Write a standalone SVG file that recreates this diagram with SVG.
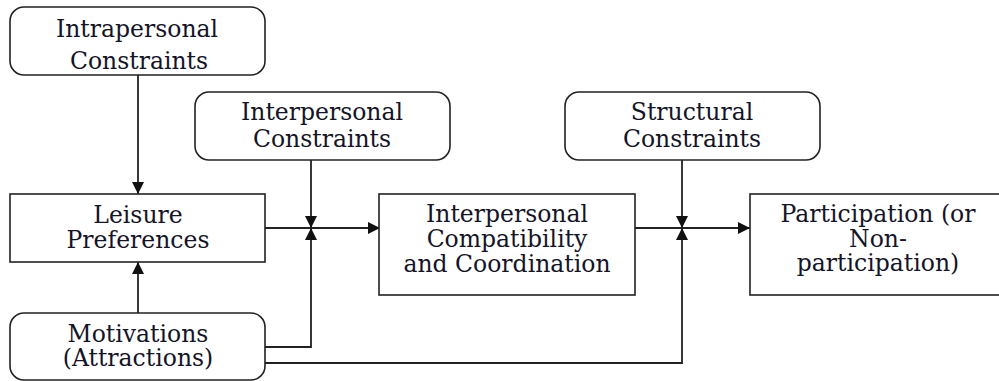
<svg xmlns="http://www.w3.org/2000/svg" width="999" height="381" viewBox="0 0 999 381">
<defs>
<style>
.box{fill:#fff;stroke:#222;stroke-width:1.6}
text{font-family:"DejaVu Serif","Liberation Serif",serif;font-size:23.5px;fill:#141428;text-anchor:middle}
.ln{fill:none;stroke:#222;stroke-width:1.8}
</style>
<marker id="ah" viewBox="0 0 12 12" refX="12" refY="6" markerWidth="12" markerHeight="12" markerUnits="userSpaceOnUse" orient="auto">
<path d="M0,0 L12,6 L0,12 Z" fill="#111"/>
</marker>
</defs>
<rect width="999" height="381" fill="#fff"/>
<g id="connectors">
<line class="ln" x1="138" y1="75" x2="138" y2="194" marker-end="url(#ah)"/>
<line class="ln" x1="138" y1="313" x2="138" y2="262" marker-end="url(#ah)"/>
<line class="ln" x1="265" y1="228" x2="380" y2="228" marker-end="url(#ah)"/>
<line class="ln" x1="311" y1="160" x2="311" y2="228" marker-end="url(#ah)"/>
<polyline class="ln" points="265,347 311,347 311,228" marker-end="url(#ah)"/>
<line class="ln" x1="635" y1="228" x2="750" y2="228" marker-end="url(#ah)"/>
<line class="ln" x1="682" y1="160" x2="682" y2="228" marker-end="url(#ah)"/>
<polyline class="ln" points="265,363 682,363 682,228" marker-end="url(#ah)"/>
</g>
<g id="intrapersonal">
<rect class="box" x="10" y="7" width="255" height="68" rx="14"/>
<text x="137" y="37">Intrapersonal</text>
<text x="139" y="69">Constraints</text>
</g>
<g id="interpersonal">
<rect class="box" x="195" y="92" width="255" height="68" rx="14"/>
<text x="322" y="120">Interpersonal</text>
<text x="322" y="147">Constraints</text>
</g>
<g id="structural">
<rect class="box" x="565" y="92" width="255" height="68" rx="14"/>
<text x="692" y="120">Structural</text>
<text x="692" y="147">Constraints</text>
</g>
<g id="leisure">
<rect class="box" x="10" y="194" width="255" height="68"/>
<text x="138" y="223">Leisure</text>
<text x="138" y="248">Preferences</text>
</g>
<g id="motivations">
<rect class="box" x="10" y="313" width="255" height="67" rx="14"/>
<text x="138" y="342">Motivations</text>
<text x="138" y="366">(Attractions)</text>
</g>
<g id="compatibility">
<rect class="box" x="379" y="194" width="256" height="101"/>
<text x="507" y="222">Interpersonal</text>
<text x="507" y="247">Compatibility</text>
<text x="507" y="272">and Coordination</text>
</g>
<g id="participation">
<rect class="box" x="750" y="194" width="256" height="101"/>
<text x="878" y="222">Participation (or</text>
<text x="878" y="247">Non-</text>
<text x="878" y="271">participation)</text>
</g>
</svg>
